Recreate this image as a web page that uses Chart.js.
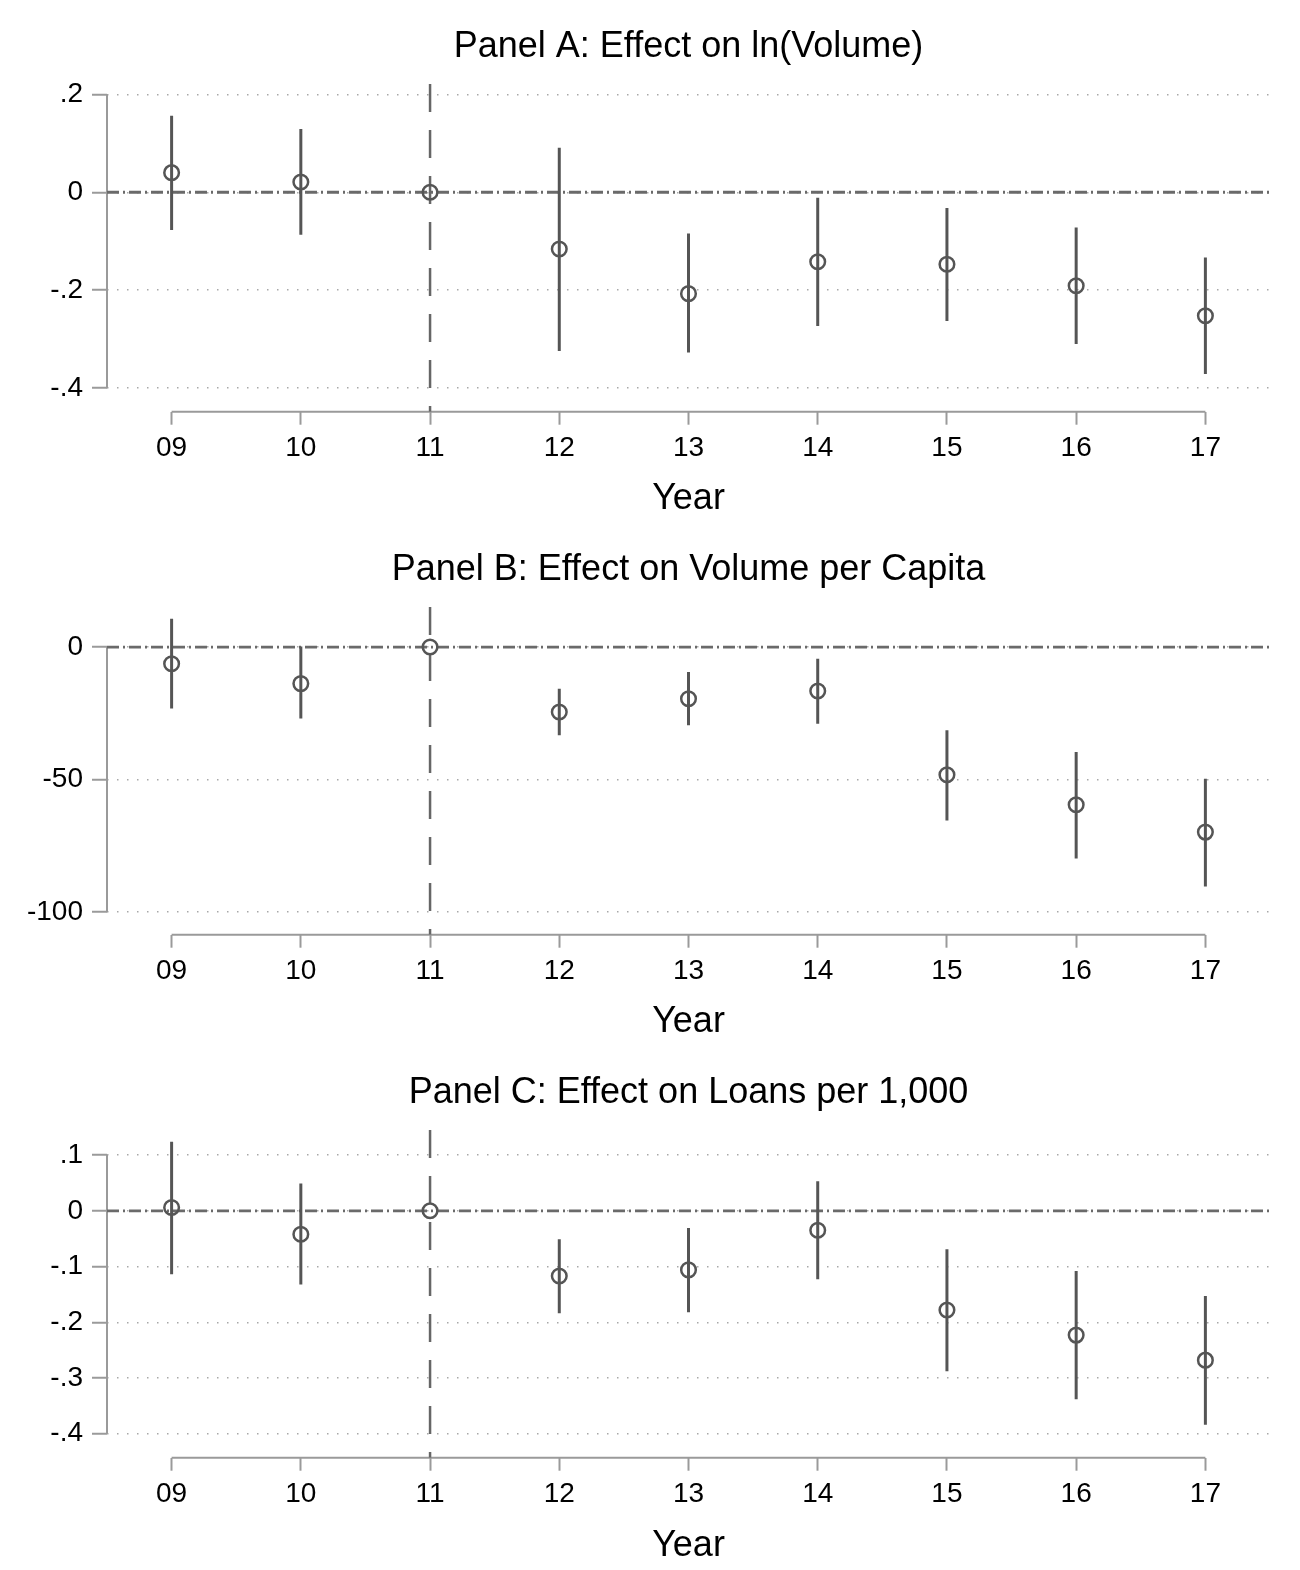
<!DOCTYPE html>
<html>
<head>
<meta charset="utf-8">
<title>Event study panels</title>
<script src="https://cdn.jsdelivr.net/npm/chart.js@4.4.1/dist/chart.umd.min.js"></script>
<style>
  html, body { margin: 0; padding: 0; background: #fff; }
  canvas { position: absolute; left: 0; }
</style>
</head>
<body>
<canvas id="panelA" width="1300" height="523" style="top:0px"></canvas>
<canvas id="panelB" width="1300" height="523" style="top:523px"></canvas>
<canvas id="panelC" width="1300" height="524" style="top:1046px"></canvas>
<script>
// Shared x axis
const years = [9, 10, 11, 12, 13, 14, 15, 16, 17];
const yearLabels = ['09', '10', '11', '12', '13', '14', '15', '16', '17'];
const baseYear = 11;

// Panel A: ln(Volume)
const volEst  = [0.040, 0.021, 0, -0.116, -0.207, -0.142, -0.147, -0.191, -0.252];
const volLow  = [-0.077, -0.087, null, -0.324, -0.327, -0.273, -0.263, -0.310, -0.371];
const volHigh = [0.156, 0.129, null, 0.091, -0.084, -0.011, -0.032, -0.072, -0.133];
const volTicks = [0.2, 0, -0.2, -0.4];

// Panel B: volume per capita
const capEst  = [-6.3, -13.8, 0, -24.5, -19.5, -16.6, -48.2, -59.5, -69.8];
const capLow  = [-23.2, -27.0, null, -33.3, -29.5, -28.9, -65.4, -79.8, -90.3];
const capHigh = [10.7, 0.2, null, -15.7, -9.4, -4.4, -31.4, -39.6, -49.7];
const capTicks = [0, -50, -100];

// Panel C: loans per 1,000
const loanEst  = [0.006, -0.042, 0, -0.117, -0.106, -0.035, -0.178, -0.223, -0.268];
const loanLow  = [-0.114, -0.132, null, -0.184, -0.182, -0.123, -0.288, -0.338, -0.384];
const loanHigh = [0.124, 0.049, null, -0.051, -0.031, 0.053, -0.069, -0.108, -0.153];
const loanTicks = [0.1, 0, -0.1, -0.2, -0.3, -0.4];

const FONT = "'Liberation Sans', Arial, Helvetica, sans-serif";
const AXIS_GREY = '#9a9a9a';
const MARK_GREY = '#555555';

// stata style labels: .2, -.4
function stataLabel(v) {
    return String(v).replace(/^(-?)0\./, '$1.');
}

// axis lines only run from first to last tick, like Stata
const axisLines = {
    id: 'axisLines',
    beforeDatasetsDraw(chart) {
        const { ctx, chartArea, scales: { x, y } } = chart;
        const yVals = y.ticks.map(t => t.value);
        const xVals = x.ticks.map(t => t.value);
        ctx.save();
        ctx.strokeStyle = AXIS_GREY;
        ctx.lineWidth = 2;
        ctx.beginPath();
        ctx.moveTo(chartArea.left, y.getPixelForValue(Math.max(...yVals)));
        ctx.lineTo(chartArea.left, y.getPixelForValue(Math.min(...yVals)));
        ctx.moveTo(x.getPixelForValue(Math.min(...xVals)), chartArea.bottom);
        ctx.lineTo(x.getPixelForValue(Math.max(...xVals)), chartArea.bottom);
        ctx.stroke();
        ctx.restore();
    }
};

function makePanel(id, title, est, low, high, ticks, yMin, yMax) {
    const xMin = years[0] - 0.5;
    const xMax = years[years.length - 1] + 0.5;

    const ciData = years.flatMap((yr, i) => low[i] === null ? [] :
        [{ x: yr, y: low[i] }, { x: yr, y: high[i] }, { x: yr, y: null }]);

    new Chart(document.getElementById(id), {
        type: 'scatter',
        data: {
            datasets: [
                {
                    // point estimates
                    data: years.map((yr, i) => ({ x: yr, y: est[i] })),
                    pointRadius: 7.3,
                    pointBorderWidth: 2.5,
                    pointBorderColor: MARK_GREY,
                    pointBackgroundColor: 'rgba(0,0,0,0)',
                    showLine: false,
                    order: 0
                },
                {
                    // confidence intervals
                    data: ciData,
                    showLine: true,
                    spanGaps: false,
                    borderColor: MARK_GREY,
                    borderWidth: 3,
                    pointRadius: 0,
                    order: 1
                },
                {
                    // base year
                    data: [{ x: baseYear, y: yMax }, { x: baseYear, y: yMin }],
                    showLine: true,
                    borderColor: '#666666',
                    borderWidth: 2.5,
                    borderDash: [28, 18],
                    pointRadius: 0,
                    order: 2
                },
                {
                    // zero line
                    data: [{ x: xMin, y: 0 }, { x: xMax, y: 0 }],
                    showLine: true,
                    borderColor: '#6a6a6a',
                    borderWidth: 2.8,
                    borderDash: [12, 4, 2, 4],
                    pointRadius: 0,
                    order: 3
                }
            ]
        },
        options: {
            responsive: false,
            animation: false,
            events: [],
            layout: { padding: { left: 0, right: 30, top: 0, bottom: 0 } },
            plugins: {
                legend: { display: false },
                tooltip: { enabled: false },
                title: {
                    display: true,
                    fullSize: false,   // centre over the plot region
                    text: title,
                    color: '#000',
                    font: { family: FONT, size: 36, weight: 'normal', lineHeight: 1.2 },
                    padding: { top: 25.4, bottom: 15.4 }
                }
            },
            scales: {
                x: {
                    type: 'linear',
                    min: xMin,
                    max: xMax,
                    afterBuildTicks: scale => { scale.ticks = years.map(v => ({ value: v })); },
                    afterFit: scale => { scale.height = scale.chart.height - 411.7; },
                    grid: {
                        drawOnChartArea: false,
                        drawTicks: true,
                        tickLength: 13,
                        tickColor: AXIS_GREY,
                        tickWidth: 2
                    },
                    border: { display: false },
                    ticks: {
                        autoSkip: false,
                        maxRotation: 0,
                        padding: 7,
                        color: '#000',
                        font: { family: FONT, size: 28 },
                        callback: v => yearLabels[years.indexOf(v)]
                    },
                    title: {
                        display: true,
                        text: 'Year',
                        color: '#000',
                        font: { family: FONT, size: 36 },
                        padding: { top: 0, bottom: 2 }
                    }
                },
                y: {
                    min: yMin,
                    max: yMax,
                    afterBuildTicks: scale => { scale.ticks = ticks.map(v => ({ value: v })); },
                    afterFit: scale => { scale.width = 107; },
                    grid: {
                        color: '#a8a8a8',
                        lineWidth: 1.5,
                        drawTicks: true,
                        tickLength: 15,
                        tickColor: AXIS_GREY,
                        tickWidth: 2,
                        tickBorderDash: []
                    },
                    border: { display: false, dash: [1.5, 8.5] },
                    ticks: {
                        autoSkip: false,
                        padding: 9,
                        color: '#000',
                        font: { family: FONT, size: 28 },
                        callback: v => stataLabel(v)
                    }
                }
            }
        },
        plugins: [axisLines]
    });
}

makePanel('panelA', 'Panel A: Effect on ln(Volume)', volEst, volLow, volHigh, volTicks, -0.448, 0.221);
makePanel('panelB', 'Panel B: Effect on Volume per Capita', capEst, capLow, capHigh, capTicks, -108.5, 15.1);
makePanel('panelC', 'Panel C: Effect on Loans per 1,000', loanEst, loanLow, loanHigh, loanTicks, -0.443, 0.145);
</script>
</body>
</html>
